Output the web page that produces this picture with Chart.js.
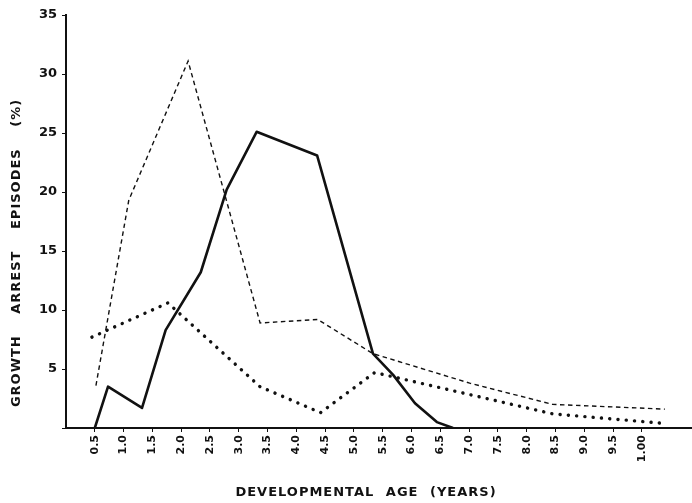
<!DOCTYPE html>
<html>
<head>
<meta charset="utf-8">
<script src="https://cdn.jsdelivr.net/npm/chart.js@4/dist/chart.umd.min.js"></script>
<style>
  body { margin: 0; background: #fff; }
  #wrap { width: 692px; height: 503px; }
</style>
</head>
<body>
<div id="wrap">
  <canvas id="growth-arrest"></canvas>
</div>

<script>
  // tick labels along the age axis (the last one is printed "1.00" on the original)
  const xTicks = [0.5, 1, 1.5, 2, 2.5, 3, 3.5, 4, 4.5, 5, 5.5, 6, 6.5, 7, 7.5, 8, 8.5, 9, 9.5, 10];
  const xTickLabels = ["0.5", "1.0", "1.5", "2.0", "2.5", "3.0", "3.5", "4.0", "4.5", "5.0",
                       "5.5", "6.0", "6.5", "7.0", "7.5", "8.0", "8.5", "9.0", "9.5", "1.00"];
  const yTicks = [0, 5, 10, 15, 20, 25, 30, 35];

  // thin dashed series
  const dashedAge = [0.52, 1.09, 2.12, 3.37, 4.37, 5.33, 7.01, 8.45, 10.40];
  const dashedPct = [3.6, 19.3, 31.1, 8.9, 9.2, 6.3, 3.8, 2.0, 1.6];

  // heavy solid series
  const solidAge = [0.5, 0.73, 1.32, 1.73, 2.34, 2.79, 3.31, 4.36, 5.33, 5.68, 6.06, 6.44, 6.72];
  const solidPct = [0, 3.5, 1.7, 8.3, 13.2, 20.2, 25.1, 23.1, 6.3, 4.5, 2.1, 0.5, 0];

  // dotted series
  const dottedAge = [0.45, 1.77, 3.37, 4.42, 5.36, 8.45, 10.36];
  const dottedPct = [7.7, 10.6, 3.5, 1.3, 4.7, 1.2, 0.4];

  const xTitle = "DEVELOPMENTAL AGE (YEARS)";
  const yTitle = "GROWTH ARREST EPISODES (%)";

  const ink = "#111";

  function toPoints(xs, ys) {
    return xs.map(function(x, i) { return {x: x, y: ys[i]}; });
  }

  // axis titles drawn by hand so the letter spacing can follow the original
  const axisTitles = {
    id: "axisTitles",
    afterDraw(chart) {
      const ctx = chart.ctx;
      const area = chart.chartArea;
      ctx.save();
      ctx.fillStyle = ink;
      ctx.font = "bold 13px 'DejaVu Sans'";
      ctx.textAlign = "center";
      ctx.textBaseline = "middle";
      ctx.letterSpacing = "1px";
      ctx.wordSpacing = "6px";
      ctx.fillText(xTitle, area.left + 300, area.bottom + 65);
      ctx.translate(17, area.top + 238);
      ctx.rotate(-Math.PI / 2);
      ctx.wordSpacing = "16px";
      ctx.fillText(yTitle, 0, 0);
      ctx.restore();
    }
  };

  Chart.defaults.font.family = "'DejaVu Sans', sans-serif";
  Chart.defaults.color = ink;

  const data = {
    datasets: [
      {
        label: "dashed",
        data: toPoints(dashedAge, dashedPct),
        borderColor: ink,
        borderWidth: 1.4,
        borderDash: [4.5, 3.5],
        pointRadius: 0,
      },
      {
        label: "solid",
        data: toPoints(solidAge, solidPct),
        borderColor: ink,
        borderWidth: 2.6,
        borderJoinStyle: "round",
        pointRadius: 0,
      },
      {
        label: "dotted",
        data: toPoints(dottedAge, dottedPct),
        borderColor: ink,
        borderWidth: 3.4,
        borderDash: [0.1, 8.2],
        borderCapStyle: "round",
        pointRadius: 0,
      }
    ]
  };

  const config = {
    type: "line",
    data: data,
    plugins: [axisTitles],
    options: {
      responsive: true,
      maintainAspectRatio: false,
      animation: false,
      events: [],
      layout: { padding: { top: 15, right: 0, bottom: 0, left: 0 } },
      plugins: {
        legend: { display: false },
        tooltip: { enabled: false }
      },
      scales: {
        x: {
          type: "linear",
          min: 0,
          max: 10.87,
          afterBuildTicks: function(scale) {
            scale.ticks = xTicks.map(function(v) { return {value: v}; });
          },
          afterFit: function(scale) { scale.height = 75; },
          ticks: {
            autoSkip: false,
            minRotation: 90,
            maxRotation: 90,
            padding: 3,
            font: { size: 11, weight: "bold" },
            callback: function(value, index) { return xTickLabels[index]; }
          },
          grid: { drawOnChartArea: false, drawTicks: true, tickLength: 4, color: ink },
          border: { display: true, color: ink, width: 2 }
        },
        y: {
          type: "linear",
          min: 0,
          max: 35,
          afterBuildTicks: function(scale) {
            scale.ticks = yTicks.map(function(v) { return {value: v}; });
          },
          afterFit: function(scale) { scale.width = 66; },
          ticks: {
            padding: 5,
            font: { size: 13, weight: "bold" },
            callback: function(value) { return value === 0 ? "" : String(value); }
          },
          grid: { drawOnChartArea: false, drawTicks: true, tickLength: 4, color: ink },
          border: { display: true, color: ink, width: 2 }
        }
      }
    }
  };

  const myChart = new Chart(document.getElementById("growth-arrest"), config);
</script>
</body>
</html>
